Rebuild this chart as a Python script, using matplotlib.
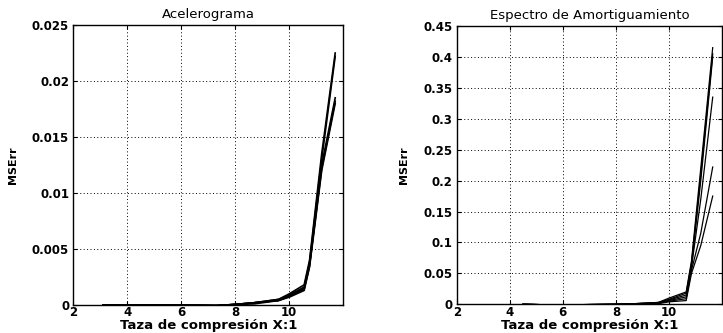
import matplotlib
matplotlib.use("Agg")
import matplotlib.pyplot as plt

# ---- data ----
x_acel = [3.1, 5.5, 7.3, 8.0, 8.7, 9.6, 10.0, 10.55, 10.75, 11.2, 11.7]
acel_series = [
    [0.0, 0.0, -0.00005, 0.00005, 0.0002, 0.0005, 0.0010, 0.0018, 0.0040, 0.0135, 0.0225],
    [0.0, 0.0, -0.00005, 0.00005, 0.0002, 0.0005, 0.0009, 0.0016, 0.0038, 0.0130, 0.0222],
    [0.0, 0.0, -0.00005, 0.00005, 0.0002, 0.0004, 0.0008, 0.0015, 0.0036, 0.0125, 0.0185],
    [0.0, 0.0, -0.00005, 0.00005, 0.0002, 0.0004, 0.0008, 0.0014, 0.0035, 0.0122, 0.0182],
    [0.0, 0.0, -0.00005, 0.00005, 0.0001, 0.0004, 0.0007, 0.0013, 0.0034, 0.0120, 0.0180],
]

x_esp = [4.5, 5.7, 8.0, 8.7, 9.6, 10.0, 10.65, 10.85, 11.2, 11.65]
esp_series = [
    [0.0, -0.001, 0.0, 0.001, 0.003, 0.010, 0.020, 0.070, 0.220, 0.415],
    [0.0, -0.001, 0.0, 0.001, 0.003, 0.008, 0.018, 0.066, 0.210, 0.405],
    [0.0, -0.001, 0.0, 0.001, 0.002, 0.007, 0.015, 0.062, 0.200, 0.400],
    [0.0, -0.001, 0.0, 0.001, 0.002, 0.006, 0.012, 0.060, 0.170, 0.335],
    [0.0, -0.001, 0.0, 0.000, 0.002, 0.005, 0.009, 0.055, 0.115, 0.222],
    [0.0, -0.001, 0.0, 0.000, 0.001, 0.004, 0.006, 0.050, 0.095, 0.175],
]

titles = ["Acelerograma", "Espectro de Amortiguamiento"]
xlabel = "Taza de compresión X:1"
ylabel = "MSErr"
xticks = [2, 4, 6, 8, 10]
yticks_acel = [0, 0.005, 0.01, 0.015, 0.02, 0.025]
ytick_labels_acel = ["0", "0.005", "0.01", "0.015", "0.02", "0.025"]
yticks_esp = [0, 0.05, 0.1, 0.15, 0.2, 0.25, 0.3, 0.35, 0.4, 0.45]
ytick_labels_esp = ["0", "0.05", "0.1", "0.15", "0.2", "0.25", "0.3", "0.35", "0.4", "0.45"]

plt.rcParams['font.family'] = ['DejaVu Sans']

fig = plt.figure(figsize=(7.23, 3.33), dpi=100)
ax1 = fig.add_axes([73.3 / 723, 28 / 333, 270 / 723, 280 / 333])
ax2 = fig.add_axes([456.7 / 723, 28.7 / 333, 265.3 / 723, 278.3 / 333])


def style(ax, title, yticks, ylabels, ylim):
    ax.set_xlim(2, 12)
    ax.set_ylim(*ylim)
    ax.set_xticks(xticks)
    ax.set_xticklabels([str(t) for t in xticks], fontsize=8.5, fontweight='bold')
    ax.set_yticks(yticks)
    ax.set_yticklabels(ylabels, fontsize=8.5, fontweight='bold')
    ax.tick_params(direction='in', length=3, width=0.8, pad=3, top=True, right=True)
    ax.tick_params(axis='x', pad=1)
    ax.grid(True, linestyle=(0, (1, 2.5)), color='black', linewidth=0.7)
    ax.set_title(title, fontsize=9.5, pad=5)
    ax.set_xlabel(xlabel, fontsize=9.5, fontweight='bold', labelpad=0)
    for s in ax.spines.values():
        s.set_linewidth(1.0)


for ys in acel_series:
    ax1.plot(x_acel, ys, color='black', linewidth=1.2)
for ys in esp_series:
    ax2.plot(x_esp, ys, color='black', linewidth=0.9)

style(ax1, titles[0], yticks_acel, ytick_labels_acel, (0, 0.025))
style(ax2, titles[1], yticks_esp, ytick_labels_esp, (0, 0.45))

ax1.set_ylabel(ylabel, fontsize=8, fontweight='bold', labelpad=10)
ax2.set_ylabel(ylabel, fontsize=8, fontweight='bold', labelpad=10)

fig.savefig("out.png", dpi=100)
